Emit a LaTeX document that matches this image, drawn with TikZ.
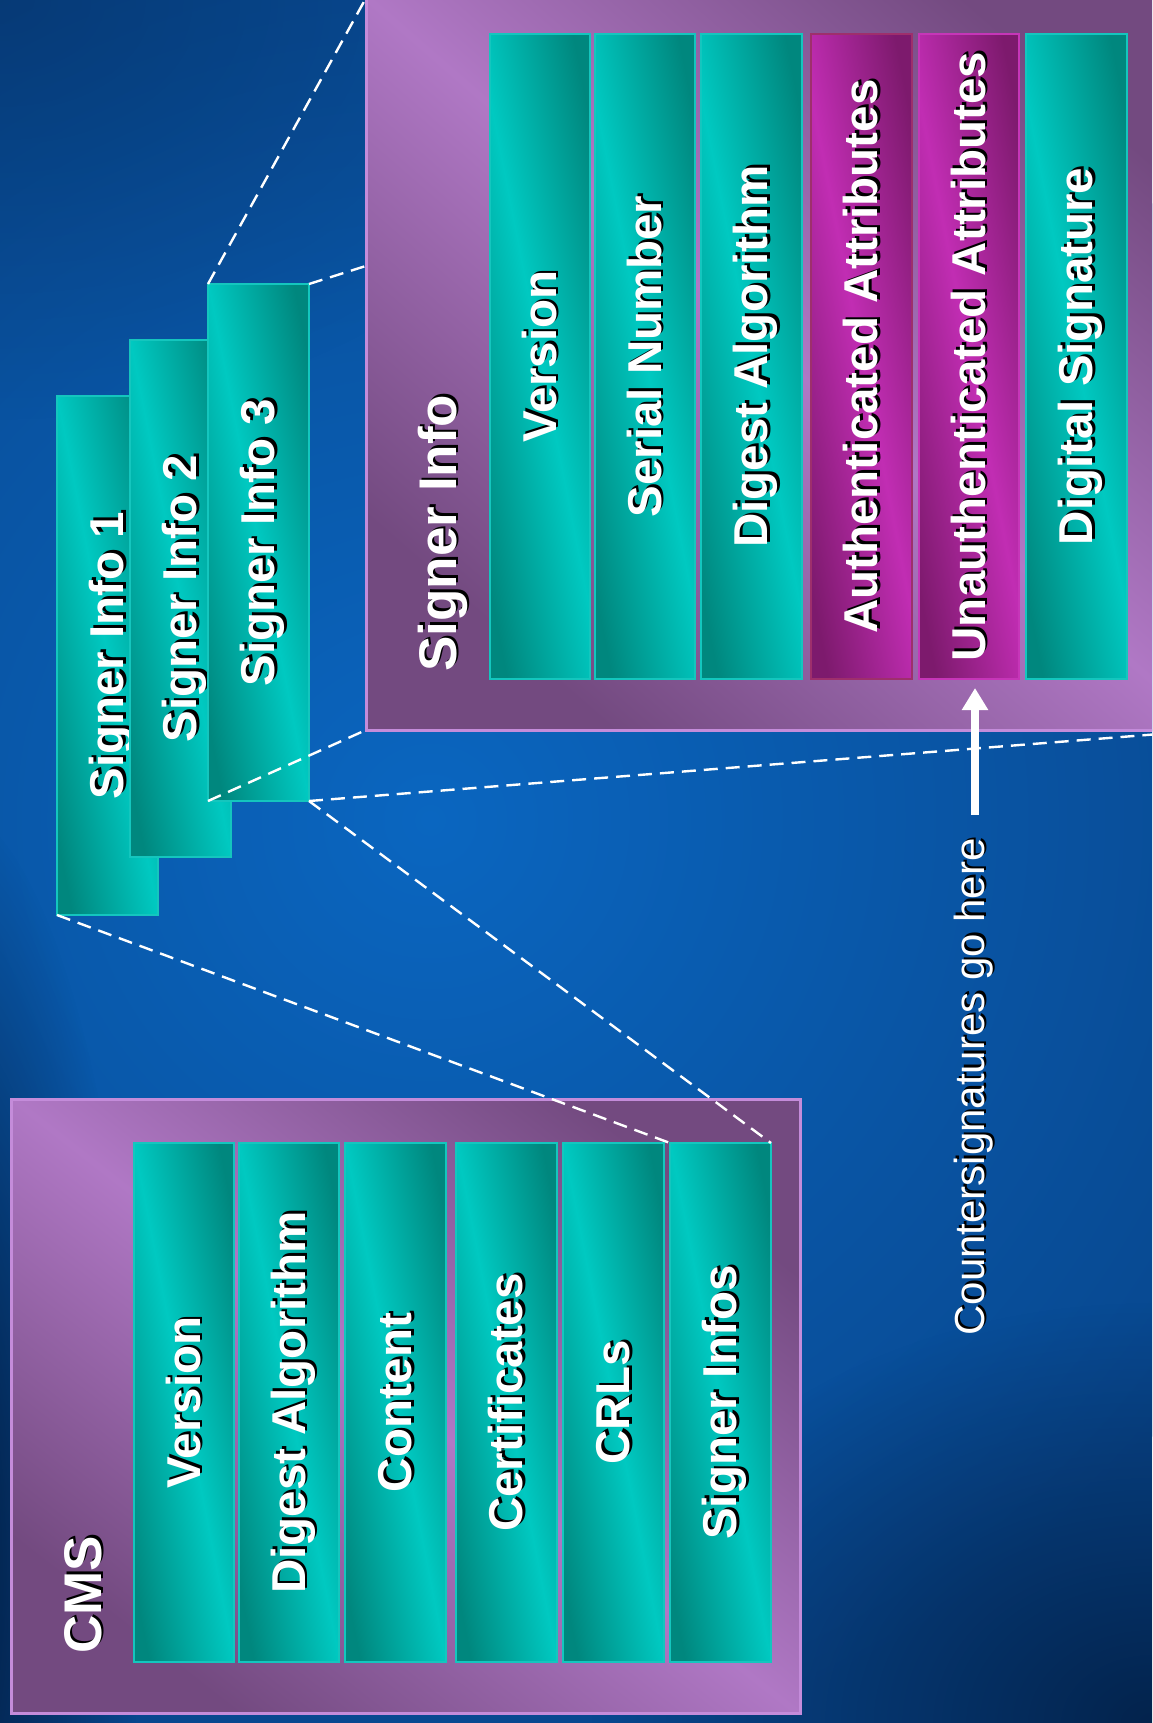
\documentclass[tikz,border=0pt]{standalone}
\usepackage{fontspec}
\setmainfont{Liberation Sans}
\usetikzlibrary{calc,arrows.meta,fadings,fit}

\definecolor{tealhi}{HTML}{00C9C1}
\definecolor{tealdk}{HTML}{00877E}
\definecolor{tealedge}{HTML}{14C6BE}
\definecolor{maghi}{HTML}{C12DB3}
\definecolor{magdk}{HTML}{7D1A6D}
\definecolor{authedge}{HTML}{9E2F6C}
\definecolor{unauthedge}{HTML}{C636B8}
\definecolor{purphi}{HTML}{B078C5}
\definecolor{purpdk}{HTML}{734A80}
\definecolor{purpedge}{HTML}{C48CDA}
\definecolor{bgmid}{HTML}{0A66C0}
\definecolor{bgout}{HTML}{08478E}
\definecolor{bgdeep}{HTML}{021A3C}

\tikzfading[name=softspot, inner color=transparent!0, outer color=transparent!100]

% white lettering with a small black drop shadow
\newcommand\shtext[1]{\rlap{\kern1.3pt\raisebox{-1.3pt}{\color{black}#1}}#1}

\begin{document}
\begin{tikzpicture}[x=0.5pt,y=-0.5pt,
  ridge/.style n args={3}{left color=#1, right color=#1, middle color=#2, shading angle=#3},
  panel/.style={ridge={purpdk}{purphi}{#1}, draw=purpedge, line width=1.5pt, inner sep=0pt, outer sep=0pt},
  field/.style={ridge={tealdk}{tealhi}{101}, draw=tealedge, line width=1pt, inner sep=0pt, outer sep=0pt},
  attrfield/.style={ridge={magdk}{maghi}{101}, line width=1.2pt, inner sep=0pt, outer sep=0pt},
  fieldtext/.style={rotate=90, anchor=base, inner sep=0pt, text=white,
    font=\bfseries\fontsize{23.75}{28}\selectfont},
  titletext/.style={rotate=90, anchor=base west, inner sep=0pt, text=white,
    font=\bfseries\fontsize{26.5}{30}\selectfont},
  notetext/.style={rotate=90, anchor=base, inner sep=0pt, text=white,
    font=\fontsize{21}{25}\selectfont},
  zoomline/.style={draw=white, line width=1.2pt, dash pattern=on 7pt off 4pt},
  pointer/.style={draw=white, line width=4pt, -{Triangle[width=12.5pt,length=11pt]}},
]
\useasboundingbox (0,0) rectangle (1152,1723);
\clip (0,0) rectangle (1152,1723);

% ---------- background ----------
\fill[bgout] (0,0) rectangle (1152,1723);
\shade[inner color=bgmid, outer color=bgout] (430,820) circle (950);
\fill[bgdeep, path fading=softspot] (-60,1560) ellipse (200 and 760);
\fill[bgdeep, opacity=0.8, path fading=softspot] (1152,1723) ellipse (560 and 420);
\fill[bgdeep, opacity=0.3, path fading=softspot] (0,0) ellipse (600 and 420);

% ---------- CMS structure ----------
\node[panel=142, fit={(11,1099) (800,1713)}] (cmsbox) {};
\node[titletext] (cmstitle) at (101,1654) {\shtext{CMS}};

\node[field, fit={(134,1143) (234,1662)}] (cmsVer) {};
\node[field, fit={(239,1143) (339,1662)}] (cmsDig) {};
\node[field, fit={(345,1143) (446,1662)}] (cmsCont) {};
\node[field, fit={(456,1143) (557,1662)}] (cmsCert) {};
\node[field, fit={(563,1143) (664,1662)}] (cmsCrl) {};
\node[field, fit={(670,1143) (771,1662)}] (cmsSig) {};

\node[fieldtext] (tcmsVer)  at ($(cmsVer.center)+(16,0)$)  {\shtext{Version}};
\node[fieldtext] (tcmsDig)  at ($(cmsDig.center)+(16,0)$)  {\shtext{Digest Algorithm}};
\node[fieldtext] (tcmsCont) at ($(cmsCont.center)+(16,0)$) {\shtext{Content}};
\node[fieldtext] (tcmsCert) at ($(cmsCert.center)+(16,0)$) {\shtext{Certificates}};
\node[fieldtext] (tcmsCrl)  at ($(cmsCrl.center)+(16,0)$)  {\shtext{CRLs}};
\node[fieldtext] (tcmsSig)  at ($(cmsSig.center)+(16,0)$)  {\shtext{Signer Infos}};

% ---------- stack of signer infos ----------
\node[field, fit={(57,396) (158,915)}] (si1) {};
\node[fieldtext] (tsi1) at ($(si1.center)+(16,0)$) {\shtext{Signer Info 1}};
\node[field, fit={(130,340) (231,857)}] (si2) {};
\node[fieldtext] (tsi2) at ($(si2.center)+(16,0)$) {\shtext{Signer Info 2}};
\node[field, fit={(208,284) (309,801)}] (si3) {};
\node[fieldtext] (tsi3) at ($(si3.center)+(16,0)$) {\shtext{Signer Info 3}};

% ---------- expanded signer info frame (corners first, for the guide lines) ----------
\path (366,-2) coordinate (sinw) (1210,-2) coordinate (sine)
      (366,730) coordinate (sisw) (1210,730) coordinate (sise);

% guide lines: CMS field -> stack, stack -> expanded frame
\draw[zoomline] (si1.south west) -- (cmsSig.north west);
\draw[zoomline] (si3.south east) -- (cmsSig.north east);
\draw[zoomline] (si3.north west) -- (sinw);
\draw[zoomline] (si3.north east) -- (sine);
\draw[zoomline] (si3.south west) -- (sisw);
\draw[zoomline] (si3.south east) -- (sise);

\node[panel=139, fit={(sinw) (sise)}] (sibox) {};
\node[titletext] (sititle) at (456,672) {\shtext{Signer Info}};

\node[field, fit={(490,34) (590,679)}] (siVer) {};
\node[field, fit={(595,34) (695,679)}] (siSer) {};
\node[field, fit={(701,34) (802,679)}] (siDig) {};
\node[attrfield, draw=authedge, fit={(811,34) (912,679)}] (siAuth) {};
\node[attrfield, draw=unauthedge, fit={(919,34) (1019,679)}] (siUnauth) {};
\node[field, fit={(1026,34) (1127,679)}] (siSig) {};

\node[fieldtext] (tsiVer)    at ($(siVer.center)+(16,0)$)    {\shtext{Version}};
\node[fieldtext] (tsiSer)    at ($(siSer.center)+(16,0)$)    {\shtext{Serial Number}};
\node[fieldtext] (tsiDig)    at ($(siDig.center)+(16,0)$)    {\shtext{Digest Algorithm}};
\node[fieldtext] (tsiAuth)   at ($(siAuth.center)+(16,0)$)   {\shtext{Authenticated Attributes}};
\node[fieldtext] (tsiUnauth) at ($(siUnauth.center)+(16,0)$) {\shtext{Unauthenticated Attributes}};
\node[fieldtext] (tsiSig)    at ($(siSig.center)+(16,0)$)    {\shtext{Digital Signature}};

% ---------- countersignature note ----------
\node[notetext] (csnote) at (984,1087) {\shtext{Countersignatures go here}};
\coordinate (csTail) at (975,815);
\coordinate (csTip) at (975,688);
\draw[pointer] (csTail) -- (csTip);
\end{tikzpicture}
\end{document}
